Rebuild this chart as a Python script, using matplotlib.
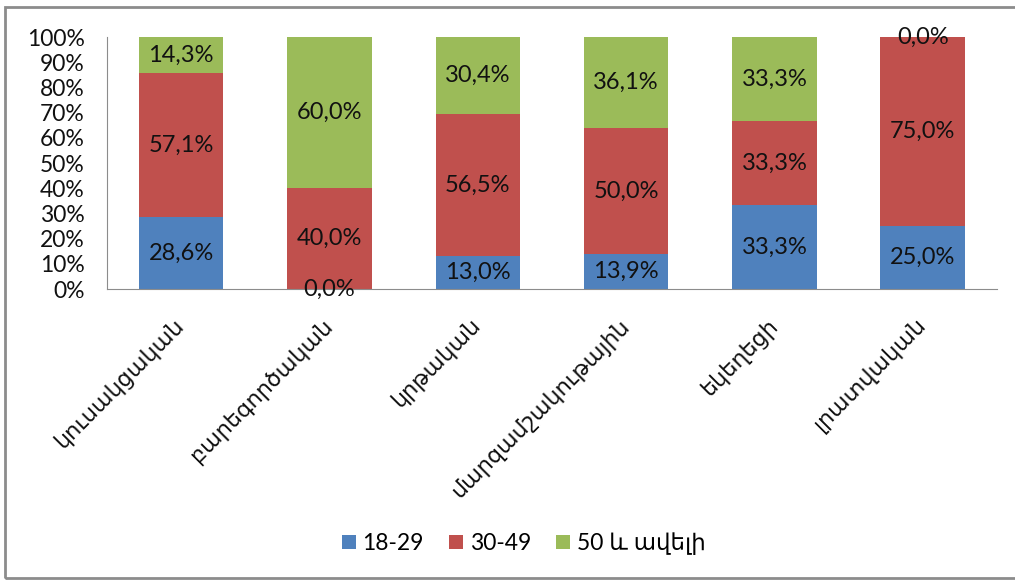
import matplotlib.pyplot as plt
from matplotlib.patches import Rectangle
import numpy as np

plt.rcParams['font.family'] = ['Lato', 'DejaVu Sans']

categories = ['կուսակցական', 'բարեգործական', 'կրթական',
              'մարզամշակութային', 'եկեղեցի', 'լրատվական']
series_names = ['18-29', '30-49', '50 և ավելի']
age_18_29 = [28.6, 0.0, 13.0, 13.9, 33.3, 25.0]
age_30_49 = [57.1, 40.0, 56.5, 50.0, 33.3, 75.0]
age_50_up = [14.3, 60.0, 30.4, 36.1, 33.3, 0.0]
colors = ['#4F81BD', '#C0504D', '#9BBB59']

fig = plt.figure(figsize=(10.15, 5.8), dpi=100)
ax = fig.add_axes([0.1054, 0.5017, 0.8768, 0.4345])

x = np.arange(len(categories))
bottom = np.zeros(len(categories))
for name, vals, c in zip(series_names, [age_18_29, age_30_49, age_50_up], colors):
    bars = ax.bar(x, vals, 0.57, bottom=bottom, color=c, label=name)
    ax.bar_label(bars, labels=[f'{v:.1f}%'.replace('.', ',') for v in vals],
                 label_type='center', fontsize=17, color='#111111')
    bottom += np.array(vals)

ax.set_xlim(-0.5, len(categories) - 0.5)
ax.set_ylim(0, 100)
ax.set_yticks(np.arange(0, 101, 10))
ax.set_yticklabels([f'{v}%' for v in range(0, 101, 10)], fontsize=16.5, color='#111111')
ax.set_xticks(x)
ax.set_xticklabels(categories, rotation=45, ha='right', va='center',
                   rotation_mode='anchor', fontsize=16, color='#111111')
ax.tick_params(axis='y', length=0, pad=16)
ax.tick_params(axis='x', length=0, pad=24)
for s in ['top', 'right']:
    ax.spines[s].set_visible(False)
for s in ['left', 'bottom']:
    ax.spines[s].set_color('#8c8c8c')

ax.legend(loc='center', bbox_to_anchor=(0.516, 0.0625), bbox_transform=fig.transFigure,
          ncol=3, frameon=False, fontsize=16.5, handlelength=0.6, handleheight=0.6,
          handletextpad=0.3, columnspacing=1.1)

fig.patches.append(Rectangle((0.005, 0.003), 1.2, 0.985, transform=fig.transFigure,
                             fill=False, edgecolor='#8c8c8c', linewidth=2))

fig.savefig('out.png', dpi=100)
